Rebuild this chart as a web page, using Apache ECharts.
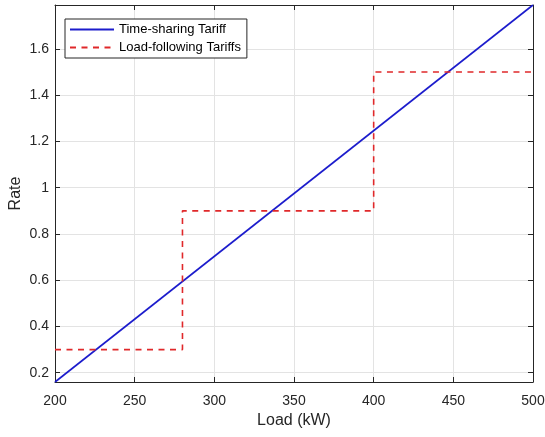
<!DOCTYPE html>
<html><head><meta charset="utf-8">
<script src="https://cdn.jsdelivr.net/npm/echarts@6/dist/echarts.min.js"></script>
<style>html,body{margin:0;padding:0;background:#fff}#c{width:545px;height:437px}</style>
</head><body><div id="c"></div>
<script>
const loadX = [200, 500];
const timeSharing = [0.16, 1.79];
const stepX = [200, 280, 280, 400, 400, 500];
const loadFollowing = [0.3, 0.3, 0.9, 0.9, 1.5, 1.5];
const xTicks = [200, 250, 300, 350, 400, 450, 500];
const yTicks = [0.2, 0.4, 0.6, 0.8, 1, 1.2, 1.4, 1.6];
const seriesNames = ['Time-sharing Tariff', 'Load-following Tariffs'];

const font = 'Liberation Sans, Arial, sans-serif';
const axisCol = '#262626';
const chart = echarts.init(document.getElementById('c'));
const xBase = {
  type: 'value', min: 200, max: 500,
  axisLine: {show: true, onZero: false, lineStyle: {color: axisCol, width: 1}},
  axisTick: {show: true, inside: true, length: 5, lineStyle: {color: axisCol}, customValues: xTicks},
  splitLine: {show: false}
};
const yBase = {
  type: 'value', min: 0.16, max: 1.79,
  axisLine: {show: true, onZero: false, lineStyle: {color: axisCol, width: 1}},
  axisTick: {show: true, inside: true, length: 5, lineStyle: {color: axisCol}, customValues: yTicks},
  splitLine: {show: false}
};
chart.setOption({
  animation: false,
  grid: {left: 55, right: 12, top: 5, bottom: 55, containLabel: false, outerBoundsMode: 'none'},
  legend: {
    orient: 'vertical', left: 65, top: 19,
    data: seriesNames,
    itemWidth: 44, itemHeight: 10, itemGap: 5,
    padding: [4, 6, 4, 4],
    borderColor: axisCol, borderWidth: 1, backgroundColor: '#fff',
    itemStyle: {opacity: 0},
    textStyle: {fontFamily: font, fontSize: 13, color: '#000'}
  },
  xAxis: [
    Object.assign({}, xBase, {
      position: 'bottom',
      name: 'Load (kW)', nameLocation: 'middle', nameGap: 31, nameMoveOverlap: false,
      nameTextStyle: {fontFamily: font, fontSize: 16, color: '#262626'},
      axisLabel: {fontFamily: font, fontSize: 14, color: '#262626', margin: 12, customValues: xTicks},
      splitLine: {show: true, lineStyle: {color: '#e3e3e3', width: 1}, customValues: xTicks}
    }),
    Object.assign({}, xBase, {position: 'top', axisLabel: {show: false}})
  ],
  yAxis: [
    Object.assign({}, yBase, {
      position: 'left',
      name: 'Rate', nameLocation: 'middle', nameGap: 31, nameMoveOverlap: false,
      nameTextStyle: {fontFamily: font, fontSize: 16, color: '#262626'},
      axisLabel: {fontFamily: font, fontSize: 14, color: '#262626', margin: 6, customValues: yTicks},
      splitLine: {show: true, lineStyle: {color: '#e3e3e3', width: 1}, customValues: yTicks}
    }),
    Object.assign({}, yBase, {position: 'right', axisLabel: {show: false}})
  ],
  series: [
    {
      name: seriesNames[0], type: 'line', symbol: 'none',
      data: loadX.map((x, i) => [x, timeSharing[i]]),
      lineStyle: {color: '#1c1ccc', width: 1.6},
      itemStyle: {color: '#1c1ccc'}
    },
    {
      name: seriesNames[1], type: 'line', symbol: 'none',
      data: stepX.map((x, i) => [x, loadFollowing[i]]),
      lineStyle: {color: '#e0282a', width: 1.6, type: [6, 5.5]},
      itemStyle: {color: '#e0282a'}
    }
  ]
});
</script></body></html>
